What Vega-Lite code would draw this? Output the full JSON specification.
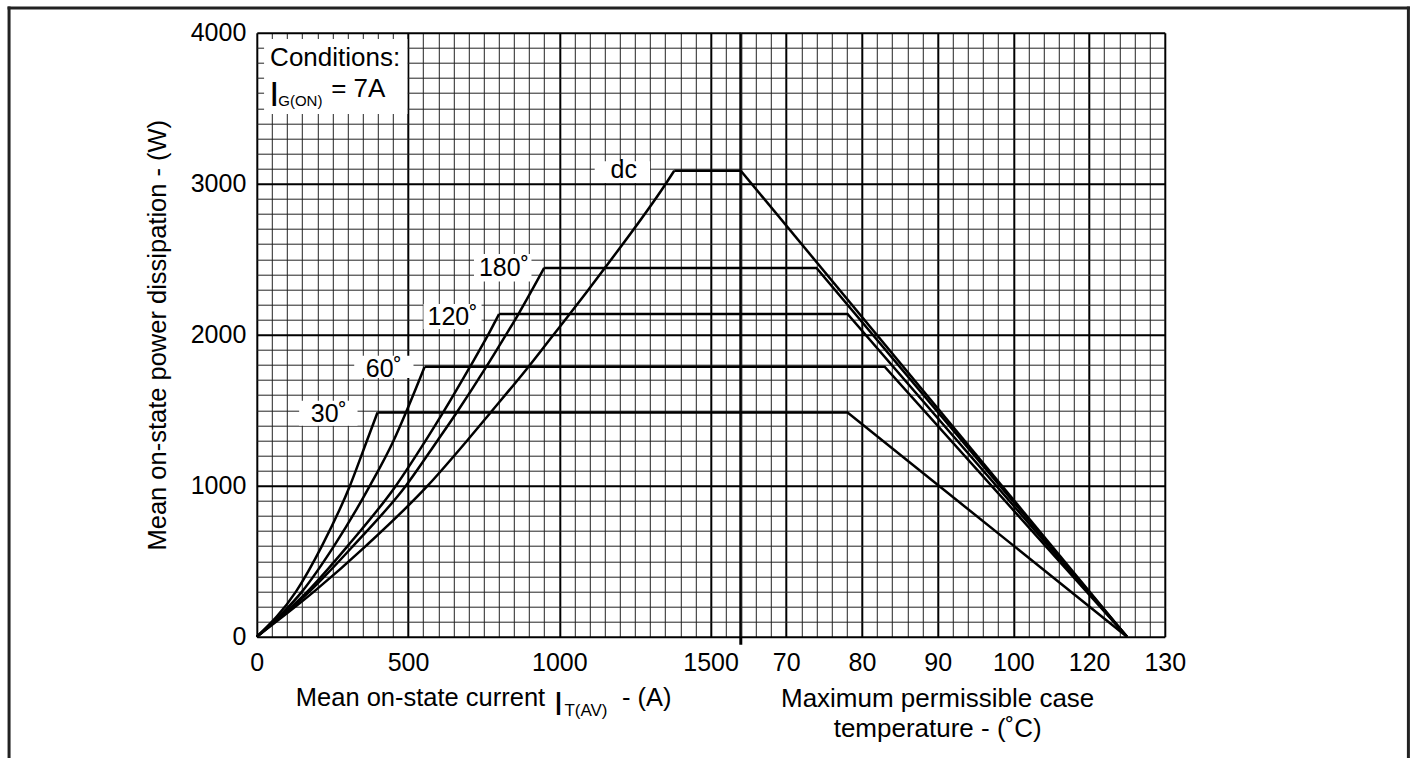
{
  "$schema": "https://vega.github.io/schema/vega-lite/v6.json",
  "background": "#ffffff",
  "padding": {"left": 6.8, "top": 5.7, "right": 0, "bottom": 0},
  "bounds": "flush",
  "spacing": 0,
  "config": {
    "font": "Liberation Sans",
    "view": {"stroke": null},
    "axis": {"labelFont": "Liberation Sans", "titleFont": "Liberation Sans", "labelColor": "#000000", "titleColor": "#000000", "titleFontWeight": "normal"},
    "text": {"font": "Liberation Sans", "color": "#000000"}
  },
  "datasets": {
    "curves": [
      {"s": "dc", "I": 0, "P": 0}, {"s": "dc", "I": 190, "P": 300}, {"s": "dc", "I": 360, "P": 600}, {"s": "dc", "I": 565, "P": 1000}, {"s": "dc", "I": 695, "P": 1298}, {"s": "dc", "I": 771, "P": 1480}, {"s": "dc", "I": 895, "P": 1780}, {"s": "dc", "I": 977, "P": 1990}, {"s": "dc", "I": 1030, "P": 2125}, {"s": "dc", "I": 1148, "P": 2435}, {"s": "dc", "I": 1352, "P": 3000}, {"s": "dc", "I": 1380, "P": 3086},
      {"s": "180", "I": 0, "P": 0}, {"s": "180", "I": 175, "P": 300}, {"s": "180", "I": 318, "P": 600}, {"s": "180", "I": 493, "P": 1000}, {"s": "180", "I": 597, "P": 1298}, {"s": "180", "I": 661, "P": 1485}, {"s": "180", "I": 759, "P": 1788}, {"s": "180", "I": 824, "P": 2000}, {"s": "180", "I": 865, "P": 2137}, {"s": "180", "I": 950, "P": 2442},
      {"s": "120", "I": 0, "P": 0}, {"s": "120", "I": 168, "P": 300}, {"s": "120", "I": 300, "P": 600}, {"s": "120", "I": 460, "P": 1000}, {"s": "120", "I": 558, "P": 1298}, {"s": "120", "I": 616, "P": 1485}, {"s": "120", "I": 705, "P": 1788}, {"s": "120", "I": 765, "P": 2000}, {"s": "120", "I": 801, "P": 2137},
      {"s": "60", "I": 0, "P": 0}, {"s": "60", "I": 150, "P": 300}, {"s": "60", "I": 255, "P": 600}, {"s": "60", "I": 374, "P": 1000}, {"s": "60", "I": 452, "P": 1298}, {"s": "60", "I": 493, "P": 1485}, {"s": "60", "I": 555, "P": 1788},
      {"s": "30", "I": 0, "P": 0}, {"s": "30", "I": 130, "P": 300}, {"s": "30", "I": 215, "P": 600}, {"s": "30", "I": 308, "P": 1000}, {"s": "30", "I": 364, "P": 1298}, {"s": "30", "I": 399, "P": 1485}
    ],
    "flats": [
      {"s": "dc", "I": 1380, "P": 3086}, {"s": "dc", "I": 1600, "P": 3086},
      {"s": "180", "I": 950, "P": 2442}, {"s": "180", "I": 1600, "P": 2442},
      {"s": "120", "I": 801, "P": 2137}, {"s": "120", "I": 1600, "P": 2137},
      {"s": "60", "I": 555, "P": 1788}, {"s": "60", "I": 1600, "P": 1788},
      {"s": "30", "I": 399, "P": 1485}, {"s": "30", "I": 1600, "P": 1485}
    ],
    "temps": [
      {"s": "dc", "T": 74, "P": 3086}, {"s": "dc", "T": 125, "P": 0},
      {"s": "180", "T": 74, "P": 2442}, {"s": "180", "T": 84, "P": 2442}, {"s": "180", "T": 125, "P": 0},
      {"s": "120", "T": 74, "P": 2137}, {"s": "120", "T": 88.1, "P": 2137}, {"s": "120", "T": 125, "P": 0},
      {"s": "60", "T": 74, "P": 1788}, {"s": "60", "T": 93, "P": 1788}, {"s": "60", "T": 125, "P": 0},
      {"s": "30", "T": 74, "P": 1485}, {"s": "30", "T": 88.1, "P": 1485}, {"s": "30", "T": 125, "P": 0}
    ],
    "boxes": [
      {"I": 1117, "I2": 1300, "P": 3005, "P2": 3148},
      {"I": 718, "I2": 908, "P": 2353, "P2": 2535},
      {"I": 551, "I2": 743, "P": 2038, "P2": 2203},
      {"I": 322, "I2": 518, "P": 1713, "P2": 1861},
      {"I": 140, "I2": 333, "P": 1397, "P2": 1563},
      {"I": 24, "I2": 498, "P": 3462, "P2": 3958}
    ],
    "labels": [
      {"t": "dc", "I": 1213, "P": 3038},
      {"t": "180˚", "I": 817, "P": 2391},
      {"t": "120˚", "I": 647, "P": 2066},
      {"t": "60˚", "I": 420, "P": 1722},
      {"t": "30˚", "I": 238, "P": 1419}
    ],
    "annot": [
      {"t": "Conditions:", "I": 44, "P": 3781, "r": "box"},
      {"t": "= 7A", "I": 246, "P": 3576, "r": "box"},
      {"t": "I", "I": 41, "P": 3517, "r": "boxI"},
      {"t": "G(ON)", "I": 71, "P": 3517, "r": "boxSub"},
      {"t": "Mean on-state current", "I": 129, "P": -457, "r": "title"},
      {"t": "- (A)", "I": 1207, "P": -457, "r": "title"},
      {"t": "I", "I": 982, "P": -517, "r": "titleI"},
      {"t": "T(AV)", "I": 1017, "P": -523, "r": "titleSub"}
    ],
    "rtitle": [
      {"t": "Maximum permissible case", "T": 100, "P": -464},
      {"t": "temperature - (˚C)", "T": 100, "P": -667}
    ]
  },
  "hconcat": [
    {
      "width": 484,
      "height": 604,
      "layer": [
        {
          "data": {"name": "boxes"},
          "mark": {"type": "rect", "color": "#ffffff"},
          "encoding": {
            "x": {
              "field": "I", "type": "quantitative",
              "scale": {"domain": [0, 1600], "nice": false, "zero": false},
              "axis": {
                "title": null,
                "values": [0,50,100,150,200,250,300,350,400,450,500,550,600,650,700,750,800,850,900,950,1000,1050,1100,1150,1200,1250,1300,1350,1400,1450,1500,1550,1600],
                "tickCount": 500,
                "format": "d",
                "grid": true,
                "gridColor": {"condition": {"test": "datum.value % 500 === 0", "value": "#000000"}, "value": "#222222"},
                "gridWidth": {"condition": {"test": "datum.value % 500 === 0", "value": 2}, "value": 1},
                "domain": false,
                "ticks": false,
                "tickSize": 0,
                "labelExpr": "datum.value % 500 === 0 && datum.value < 1600 ? datum.label : ''",
                "labelFontSize": 25,
                "labelPadding": 14,
                "labelFlush": false,
                "labelOverlap": false
              }
            },
            "x2": {"field": "I2"},
            "y": {
              "field": "P", "type": "quantitative",
              "scale": {"domain": [0, 4000], "nice": false, "zero": false},
              "axis": {
                "title": "Mean on-state power dissipation - (W)",
                "values": [0,100,200,300,400,500,600,700,800,900,1000,1100,1200,1300,1400,1500,1600,1700,1800,1900,2000,2100,2200,2300,2400,2500,2600,2700,2800,2900,3000,3100,3200,3300,3400,3500,3600,3700,3800,3900,4000],
                "tickCount": 500,
                "format": "d",
                "grid": true,
                "gridColor": {"condition": {"test": "datum.value % 1000 === 0", "value": "#000000"}, "value": "#222222"},
                "gridWidth": {"condition": {"test": "datum.value % 1000 === 0", "value": 2}, "value": 1},
                "domain": false,
                "ticks": false,
                "tickSize": 0,
                "labelExpr": "datum.value % 1000 === 0 ? datum.label : ''",
                "labelFontSize": 25,
                "labelPadding": 11,
                "labelOverlap": false,
                "titleFontSize": 25.5,
                "titlePadding": 20
              }
            },
            "y2": {"field": "P2"}
          }
        },
        {
          "data": {"name": "curves"},
          "mark": {"type": "line", "color": "#000000", "strokeWidth": 2.5, "interpolate": "monotone"},
          "encoding": {
            "x": {"field": "I", "type": "quantitative"},
            "y": {"field": "P", "type": "quantitative"},
            "detail": {"field": "s", "type": "nominal"}
          }
        },
        {
          "data": {"name": "flats"},
          "mark": {"type": "line", "color": "#000000", "strokeWidth": 2.5},
          "encoding": {
            "x": {"field": "I", "type": "quantitative"},
            "y": {"field": "P", "type": "quantitative"},
            "detail": {"field": "s", "type": "nominal"}
          }
        },
        {
          "data": {"values": [{}]},
          "mark": {"type": "rule", "color": "#000000", "strokeWidth": 3},
          "encoding": {"x": {"datum": 1600}, "y": {"datum": 4000}, "y2": {"datum": -53}}
        },
        {
          "data": {"name": "labels"},
          "mark": {"type": "text", "fontSize": 25, "align": "center", "baseline": "alphabetic"},
          "encoding": {
            "x": {"field": "I", "type": "quantitative"},
            "y": {"field": "P", "type": "quantitative"},
            "text": {"field": "t"}
          }
        },
        {
          "data": {"name": "annot"},
          "transform": [{"filter": "datum.r === 'box'"}],
          "mark": {"type": "text", "fontSize": 26, "align": "left", "baseline": "alphabetic"},
          "encoding": {"x": {"field": "I", "type": "quantitative"}, "y": {"field": "P", "type": "quantitative"}, "text": {"field": "t"}}
        },
        {
          "data": {"name": "annot"},
          "transform": [{"filter": "datum.r === 'boxI'"}],
          "mark": {"type": "text", "fontSize": 36, "align": "left", "baseline": "alphabetic"},
          "encoding": {"x": {"field": "I", "type": "quantitative"}, "y": {"field": "P", "type": "quantitative"}, "text": {"field": "t"}}
        },
        {
          "data": {"name": "annot"},
          "transform": [{"filter": "datum.r === 'boxSub'"}],
          "mark": {"type": "text", "fontSize": 15, "align": "left", "baseline": "alphabetic"},
          "encoding": {"x": {"field": "I", "type": "quantitative"}, "y": {"field": "P", "type": "quantitative"}, "text": {"field": "t"}}
        },
        {
          "data": {"name": "annot"},
          "transform": [{"filter": "datum.r === 'title'"}],
          "mark": {"type": "text", "fontSize": 25.5, "align": "left", "baseline": "alphabetic"},
          "encoding": {"x": {"field": "I", "type": "quantitative"}, "y": {"field": "P", "type": "quantitative"}, "text": {"field": "t"}}
        },
        {
          "data": {"name": "annot"},
          "transform": [{"filter": "datum.r === 'titleI'"}],
          "mark": {"type": "text", "fontSize": 34, "align": "left", "baseline": "alphabetic"},
          "encoding": {"x": {"field": "I", "type": "quantitative"}, "y": {"field": "P", "type": "quantitative"}, "text": {"field": "t"}}
        },
        {
          "data": {"name": "annot"},
          "transform": [{"filter": "datum.r === 'titleSub'"}],
          "mark": {"type": "text", "fontSize": 17, "align": "left", "baseline": "alphabetic"},
          "encoding": {"x": {"field": "I", "type": "quantitative"}, "y": {"field": "P", "type": "quantitative"}, "text": {"field": "t"}}
        },
        {
          "data": {"values": [{}]},
          "mark": {"type": "rule", "color": "#222222", "strokeWidth": 3, "strokeCap": "square"},
          "encoding": {"x": {"datum": -819}, "y": {"datum": 4164}, "y2": {"datum": -795}}
        },
        {
          "data": {"values": [{}]},
          "mark": {"type": "rule", "color": "#222222", "strokeWidth": 3, "strokeCap": "square"},
          "encoding": {"x": {"datum": -819}, "x2": {"datum": 3807}, "y": {"datum": 4164}}
        },
        {
          "data": {"values": [{}]},
          "mark": {"type": "rule", "color": "#222222", "strokeWidth": 3, "strokeCap": "square"},
          "encoding": {"x": {"datum": 3807}, "y": {"datum": 4164}, "y2": {"datum": -795}}
        }
      ]
    },
    {
      "width": 424,
      "height": 604,
      "layer": [
        {
          "data": {"name": "temps"},
          "mark": {"type": "line", "color": "#000000", "strokeWidth": 2.5},
          "encoding": {
            "x": {
              "field": "T", "type": "quantitative",
              "scale": {"domain": [74, 130], "nice": false, "zero": false},
              "axis": {
                "title": null,
                "values": [74,76,78,80,82,84,86,88,90,92,94,96,98,100,102,104,106,108,110,112,114,116,118,120,122,124,126,128,130],
                "tickCount": 500,
                "format": "d",
                "grid": true,
                "gridColor": {"condition": {"test": "datum.value % 10 === 0", "value": "#000000"}, "value": "#222222"},
                "gridWidth": {"condition": {"test": "datum.value % 10 === 0", "value": 2}, "value": 1},
                "domain": false,
                "ticks": false,
                "tickSize": 0,
                "labelExpr": "datum.value === 80 ? '70' : datum.value === 90 ? '80' : datum.value === 100 ? '90' : datum.value === 110 ? '100' : datum.value === 120 ? '120' : datum.value === 130 ? '130' : ''",
                "labelFontSize": 25,
                "labelPadding": 14,
                "labelFlush": false,
                "labelOverlap": false
              }
            },
            "y": {
              "field": "P", "type": "quantitative",
              "scale": {"domain": [0, 4000], "nice": false, "zero": false},
              "axis": {
                "title": null,
                "values": [0,100,200,300,400,500,600,700,800,900,1000,1100,1200,1300,1400,1500,1600,1700,1800,1900,2000,2100,2200,2300,2400,2500,2600,2700,2800,2900,3000,3100,3200,3300,3400,3500,3600,3700,3800,3900,4000],
                "tickCount": 500,
                "grid": true,
                "gridColor": {"condition": {"test": "datum.value % 1000 === 0", "value": "#000000"}, "value": "#222222"},
                "gridWidth": {"condition": {"test": "datum.value % 1000 === 0", "value": 2}, "value": 1},
                "domain": false,
                "ticks": false,
                "tickSize": 0,
                "labels": false
              }
            },
            "detail": {"field": "s", "type": "nominal"}
          }
        },
        {
          "data": {"name": "rtitle"},
          "mark": {"type": "text", "fontSize": 26, "align": "center", "baseline": "alphabetic"},
          "encoding": {
            "x": {"field": "T", "type": "quantitative"},
            "y": {"field": "P", "type": "quantitative"},
            "text": {"field": "t"}
          }
        }
      ]
    }
  ]
}
